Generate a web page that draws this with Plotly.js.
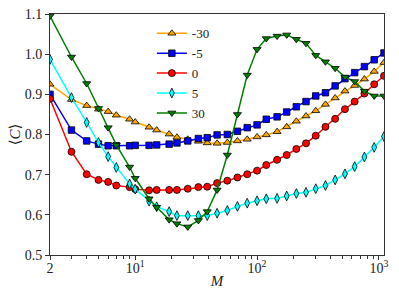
<!DOCTYPE html>
<html>
<head>
<meta charset="utf-8">
<script src="https://cdn.plot.ly/plotly-3.0.1.min.js"></script>
<style>html,body{margin:0;padding:0;background:#fff;}#chart{width:399px;height:299px;}</style>
</head>
<body>
<div id="chart"></div>
<script>
const M = [2,3,4,5,6,7,9,10,13,15,19,22,27,33,39,47,57,69,83,100,119,146,175,210,252,303,364,437,526,632,760,914,1100];
const seriesNames = ["-30","-5","0","5","30"];
const cNeg30 = [0.925,0.887,0.872,0.863,0.857,0.848,0.838,0.831,0.818,0.811,0.801,0.793,0.788,0.783,0.779,0.778,0.780,0.784,0.788,0.794,0.799,0.807,0.819,0.833,0.846,0.859,0.875,0.891,0.908,0.922,0.938,0.957,0.979];
const cNeg5 = [0.900,0.811,0.784,0.776,0.772,0.772,0.772,0.773,0.773,0.774,0.776,0.779,0.784,0.790,0.792,0.799,0.800,0.808,0.817,0.824,0.838,0.844,0.856,0.869,0.882,0.896,0.904,0.921,0.939,0.954,0.969,0.986,1.003];
const c0 = [0.889,0.757,0.701,0.687,0.682,0.673,0.669,0.664,0.661,0.662,0.662,0.662,0.665,0.669,0.670,0.679,0.685,0.693,0.701,0.710,0.724,0.737,0.749,0.764,0.778,0.797,0.819,0.839,0.863,0.882,0.902,0.925,0.946];
const c5 = [0.987,0.892,0.830,0.780,0.745,0.718,0.677,0.664,0.634,0.620,0.608,0.598,0.598,0.598,0.598,0.604,0.611,0.621,0.629,0.635,0.640,0.641,0.647,0.653,0.656,0.665,0.673,0.687,0.702,0.720,0.744,0.768,0.795];
const c30 = [1.095,0.993,0.927,0.865,0.817,0.774,0.719,0.691,0.640,0.619,0.588,0.578,0.570,0.586,0.608,0.662,0.749,0.850,0.948,1.012,1.039,1.045,1.048,1.037,1.027,0.997,0.981,0.965,0.943,0.932,0.908,0.896,0.896];
const xTickVals = [2,10,100,1000];
const xTickText = ["2","10<sup>1</sup>","10<sup>2</sup>","10<sup>3</sup>"];
const yTickVals = [0.5,0.6,0.7,0.8,0.9,1.0,1.1];
const yTickText = ["0.5","0.6","0.7","0.8","0.9","1.0","1.1"];

const styles = [
  {color:"#FFA500", symbol:"triangle-up", size:7},
  {color:"#0000FF", symbol:"square", size:6.5},
  {color:"#FF0000", symbol:"circle", size:7},
  {color:"#00FFFF", symbol:"diamond-tall", size:7},
  {color:"#008000", symbol:"triangle-down", size:7}
];
const allY = [cNeg30,cNeg5,c0,c5,c30];
const traces = allY.map((ys,i)=>({
  x: M, y: ys, name: seriesNames[i], type:"scatter", mode:"lines+markers",
  line:{color:styles[i].color, width:1.5},
  marker:{color:styles[i].color, symbol:styles[i].symbol, size:styles[i].size, line:{color:"#000", width:0.8}}
}));

const minorVals = [];
[1,10,100,1000].forEach(d=>{for(let k=2;k<=9;k++){const v=k*d; if(v>=2 && v<=1100 && xTickVals.indexOf(v)<0) minorVals.push(v);}});

const font = "Liberation Serif, DejaVu Serif, serif";
const layout = {
  width:399, height:299,
  margin:{l:50, r:14.7, t:14, b:43.7},
  paper_bgcolor:"#fff", plot_bgcolor:"#fff",
  font:{family:font, size:14, color:"#222"},
  showlegend:true,
  legend:{x:0.305, y:0.982, xanchor:"left", yanchor:"top", bgcolor:"rgba(255,255,255,0)", borderwidth:0, font:{family:font, size:13, color:"#222"}, tracegroupgap:0, itemwidth:30},
  xaxis:{type:"log", range:[Math.log10(2), Math.log10(1100)], tickmode:"array", tickvals:xTickVals, ticktext:xTickText,
    ticks:"outside", ticklen:4, tickwidth:1, tickcolor:"#333", showline:true, linecolor:"#333", linewidth:1, mirror:true,
    showgrid:false, zeroline:false, ticklabelstandoff:-4,
    minor:{tickmode:"array", tickvals:minorVals, ticks:"outside", ticklen:2.5, tickcolor:"#333", showgrid:false},
    title:{text:"<i>M</i>", font:{family:font, size:15}, standoff:0}},
  yaxis:{range:[0.5,1.1], tickmode:"array", tickvals:yTickVals, ticktext:yTickText,
    ticks:"outside", ticklen:4, tickwidth:1, tickcolor:"#333", showline:true, linecolor:"#333", linewidth:1, mirror:true,
    showgrid:false, zeroline:false,
    title:{text:"⟨<i>C</i>⟩", font:{family:font, size:15}, standoff:0}}
};
Plotly.newPlot("chart", traces, layout, {displayModeBar:false, staticPlot:true});
</script>
</body>
</html>
